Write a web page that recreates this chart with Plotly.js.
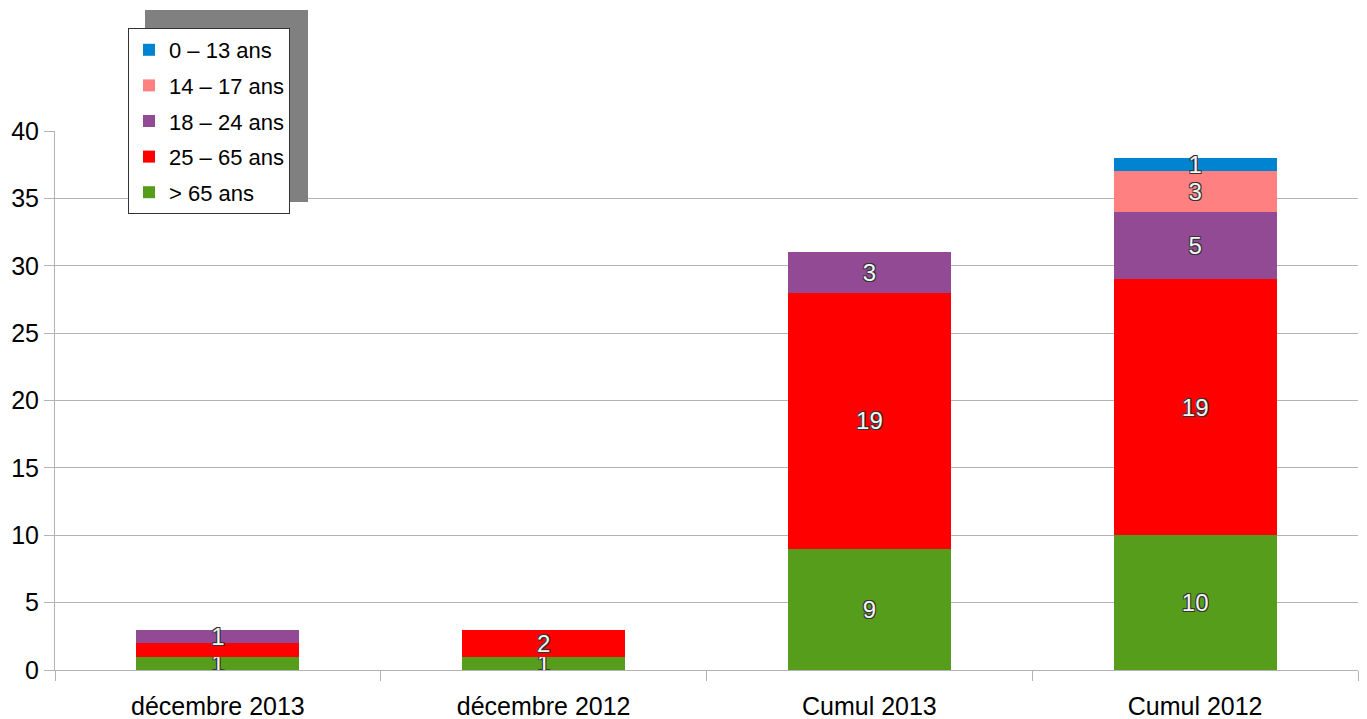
<!DOCTYPE html>
<html>
<head>
<meta charset="utf-8">
<script src="https://cdn.plot.ly/plotly-3.0.1.min.js"></script>
<style>html,body{margin:0;padding:0;background:#fff;}#chart{width:1367px;height:719px;}</style>
</head>
<body>
<div id="chart"></div>
<script>
const categories = ["décembre 2013", "décembre 2012", "Cumul 2013", "Cumul 2012"];
const seriesNames = ["> 65 ans", "25 – 65 ans", "18 – 24 ans", "14 – 17 ans", "0 – 13 ans"];
const over65 = [1, 1, 9, 10];
const age25to65 = [1, 2, 19, 19];
const age18to24 = [1, 0, 3, 5];
const age14to17 = [0, 0, 0, 3];
const age0to13 = [0, 0, 0, 1];
const labels25to65 = ["", "2", "19", "19"];
const yTicks = [0, 5, 10, 15, 20, 25, 30, 35, 40];

const colors = ["#579d1c", "#ff0000", "#924a94", "#ff8080", "#0084d1"];
const values = [over65, age25to65, age18to24, age14to17, age0to13];

const outline = "1px 1px 0 #333, -1px -1px 0 #333, 1px -1px 0 #333, -1px 1px 0 #333";
const traces = values.map((v, i) => ({
  type: "bar",
  name: seriesNames[i],
  x: categories,
  y: v,
  legendgroup: "g" + i,
  legendrank: 10 - i,
  marker: {color: colors[i], line: {width: 0}},
  text: i === 1 ? labels25to65 : v.map(n => n ? String(n) : ""),
  textposition: "inside",
  insidetextanchor: "middle",
  textangle: 0,
  constraintext: "none",
  textfont: {family: "Liberation Sans, Arial, sans-serif", size: 24, color: "#f4f4f4", shadow: outline},
  hoverinfo: "none"
}));

const pw = 1367 - 55 - 9, ph = 719 - 131 - 49;
function px(x) { return (x - 55) / pw; }
function py(y) { return (670 - y) / ph; }

const layout = {
  width: 1367, height: 719,
  margin: {l: 55, r: 9, t: 131, b: 49},
  barmode: "stack",
  bargap: 0.5,
  paper_bgcolor: "#fff", plot_bgcolor: "#fff",
  font: {family: "Liberation Sans, Arial, sans-serif", size: 25, color: "#000"},
  showlegend: true,
  legend: {
    x: px(128), y: py(28),
    xanchor: "left", yanchor: "top",
    traceorder: "grouped",
    tracegroupgap: 4,
    bgcolor: "#ffffff", bordercolor: "#333333", borderwidth: 1,
    font: {size: 22, family: "Liberation Sans, Arial, sans-serif", color: "#000"},
    itemclick: false
  },
  xaxis: {
    type: "category",
    tickson: "boundaries",
    ticks: "outside", ticklen: 10, tickcolor: "#b3b3b3",
    ticklabelstandoff: 14,
    showline: true, linecolor: "#b3b3b3",
    showgrid: false,
    tickfont: {size: 25}
  },
  yaxis: {
    range: [0, 40],
    tickvals: yTicks,
    ticks: "outside", ticklen: 10, tickcolor: "#b3b3b3",
    showline: true, linecolor: "#b3b3b3",
    gridcolor: "#b3b3b3", gridwidth: 1,
    zeroline: false,
    tickfont: {size: 25}
  },
  shapes: [{
    type: "rect", xref: "paper", yref: "paper", layer: "above",
    x0: px(145), x1: px(308), y0: py(10), y1: py(202),
    fillcolor: "#808080", line: {width: 0}
  }]
};

Plotly.newPlot("chart", traces, layout, {displayModeBar: false, staticPlot: true});
</script>
</body>
</html>
